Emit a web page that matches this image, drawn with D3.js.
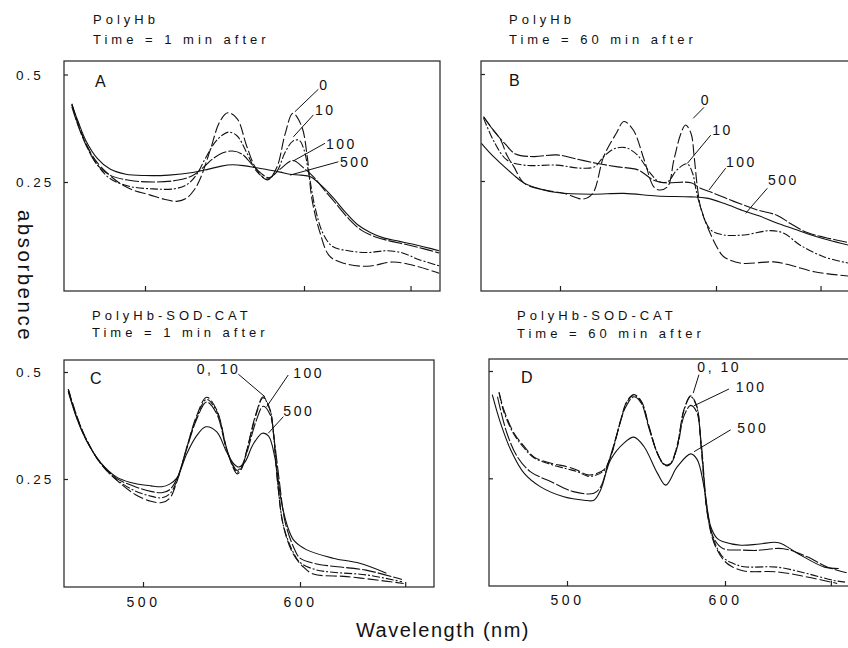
<!DOCTYPE html>
<html>
<head>
<meta charset="utf-8">
<script src="https://cdn.jsdelivr.net/npm/d3@7"></script>
<style>
  body { margin: 0; background: #fff; }
  svg { display: block; }
  text { font-family: "Liberation Sans", Arial, sans-serif; fill: #111; }
</style>
</head>
<body>
<svg id="chart" width="848" height="648"></svg>
<script>
// spectra: [wavelength nm, absorbance]
// series = H2O2 concentration (0, 10, 100, 500)
const seriesNames = ['0', '10', '100', '500'];

// A: PolyHb, 1 min
const A_0 = [[454,0.432],[458,0.385],[463,0.338],[470,0.295],[478,0.265],[485,0.245],[492,0.232],[503,0.22],[512,0.21],[520,0.205],[526,0.212],[531,0.232],[535,0.26],[541,0.324],[547,0.39],[552,0.411],[558,0.397],[564,0.333],[570,0.28],[577,0.255],[583,0.285],[588,0.36],[593,0.41],[598.5,0.38],[602,0.31],[605,0.21],[610,0.133],[616,0.078],[625,0.061],[640,0.054],[656,0.064],[670,0.055],[685,0.038]];
const A_10 = [[454,0.43],[458,0.383],[463,0.338],[470,0.29],[478,0.258],[490,0.24],[505,0.234],[518,0.234],[526,0.243],[532,0.265],[538,0.305],[544,0.342],[549,0.36],[553,0.366],[558,0.357],[564,0.318],[570,0.276],[577,0.257],[583,0.275],[588,0.318],[593,0.345],[597,0.347],[600,0.325],[603,0.27],[607,0.19],[612,0.13],[618,0.1],[628,0.09],[640,0.086],[652,0.09],[662,0.085],[672,0.07],[685,0.055]];
const A_100 = [[454,0.425],[458,0.38],[463,0.335],[470,0.29],[478,0.266],[490,0.254],[505,0.25],[520,0.254],[530,0.265],[537,0.285],[543,0.305],[549,0.318],[555,0.322],[561,0.315],[567,0.292],[573,0.27],[578,0.26],[585,0.28],[593,0.3],[600,0.282],[606,0.262],[612,0.235],[620,0.2],[628,0.165],[636,0.138],[645,0.122],[655,0.112],[665,0.104],[675,0.095],[685,0.085]];
const A_500 = [[454,0.43],[458,0.39],[463,0.345],[470,0.305],[478,0.28],[488,0.268],[500,0.265],[515,0.266],[530,0.272],[540,0.28],[548,0.287],[555,0.29],[562,0.288],[570,0.283],[578,0.278],[585,0.273],[591,0.268],[598,0.266],[604,0.262],[610,0.245],[618,0.215],[626,0.18],[634,0.15],[642,0.132],[650,0.12],[660,0.112],[670,0.104],[680,0.095],[685,0.09]];

// B: PolyHb, 60 min
const B_0 = [[451,0.40],[456,0.375],[462,0.346],[466,0.31],[470.5,0.283],[477,0.245],[490,0.229],[503,0.221],[515,0.208],[521,0.221],[528,0.307],[536,0.361],[541,0.389],[547,0.369],[554,0.299],[560,0.237],[563.5,0.229],[569,0.237],[573,0.299],[577.5,0.361],[580.5,0.381],[584,0.361],[586,0.307],[588,0.237],[590,0.19],[594.5,0.143],[601,0.093],[605,0.073],[616,0.058],[637,0.061],[648,0.053],[663,0.038],[685,0.028]];
const B_10 = [[451,0.397],[458,0.34],[466,0.299],[477,0.287],[498,0.287],[513,0.28],[522,0.283],[528,0.307],[534.5,0.325],[542,0.328],[549.5,0.311],[558,0.268],[563.5,0.248],[569,0.248],[575,0.276],[581.5,0.29],[585,0.268],[587,0.233],[590,0.19],[596.5,0.136],[605,0.124],[618,0.124],[635,0.134],[643.5,0.128],[654,0.1],[669,0.073],[685,0.058]];
const B_100 = [[451,0.40],[458,0.365],[465,0.336],[471.5,0.313],[483,0.307],[498,0.311],[511,0.301],[524,0.291],[537,0.283],[550,0.276],[560,0.252],[567,0.246],[584,0.246],[590,0.233],[599,0.221],[611,0.203],[626,0.183],[639,0.17],[648,0.15],[658,0.13],[670,0.118],[685,0.106]];
const B_500 = [[449.6,0.338],[456,0.312],[462,0.291],[470,0.265],[477,0.245],[487.5,0.231],[498,0.223],[520,0.219],[541,0.221],[562,0.215],[584,0.213],[594,0.21],[605,0.198],[618,0.18],[628,0.168],[639,0.152],[650,0.138],[660,0.125],[672,0.112],[685,0.10]];

// C: PolyHb-SOD-CAT, 1 min
const C_0 = [[452.4,0.46],[458,0.395],[464,0.342],[472.6,0.288],[483,0.248],[495,0.214],[505,0.198],[512,0.195],[517,0.205],[521.5,0.243],[528,0.325],[534,0.396],[540.5,0.441],[547,0.411],[553,0.325],[557,0.28],[560,0.262],[563,0.275],[566,0.315],[572,0.403],[576.5,0.442],[581,0.411],[583,0.36],[586,0.232],[589.5,0.139],[595.5,0.076],[602,0.045],[608.5,0.028],[630,0.022],[653,0.012],[666,0.006]];
const C_10 = [[452.4,0.46],[458,0.395],[464,0.342],[472.6,0.288],[483,0.249],[495,0.222],[505,0.21],[512,0.206],[517,0.215],[521.5,0.245],[528,0.325],[534,0.392],[540.5,0.436],[547,0.408],[553,0.324],[557,0.283],[560,0.266],[563,0.278],[566,0.315],[572,0.4],[576.5,0.44],[581,0.41],[583,0.36],[586,0.234],[589.5,0.14],[595.5,0.08],[600,0.055],[610,0.038],[621,0.032],[642,0.026],[665,0.01]];
const C_100 = [[452.4,0.455],[458,0.392],[464,0.34],[472.6,0.29],[483,0.252],[495,0.232],[505,0.221],[512,0.218],[517,0.225],[521.5,0.25],[528,0.322],[534,0.388],[540.5,0.43],[547,0.402],[553,0.322],[557,0.285],[560,0.27],[563,0.282],[566,0.31],[572,0.385],[576.5,0.42],[581,0.4],[584,0.33],[587,0.24],[590.5,0.15],[596,0.09],[600,0.065],[610,0.052],[621,0.046],[642,0.037],[665,0.015]];
const C_500 = [[452.4,0.455],[458,0.39],[464,0.34],[472.6,0.29],[483,0.255],[492,0.242],[505,0.234],[512,0.232],[517,0.238],[521.5,0.252],[528,0.31],[534,0.35],[540,0.372],[547,0.36],[553,0.315],[558,0.285],[561,0.278],[565,0.29],[570,0.33],[576,0.357],[580,0.35],[584,0.3],[588,0.2],[592,0.14],[596,0.107],[604,0.085],[621,0.065],[638,0.053],[655,0.03]];

// D: PolyHb-SOD-CAT, 60 min
const D_0 = [[457,0.45],[460,0.41],[466.5,0.355],[473,0.324],[479,0.3],[490,0.285],[500,0.277],[507,0.268],[513,0.258],[518,0.26],[523.4,0.27],[527.6,0.3],[534,0.386],[538,0.43],[542.4,0.445],[547,0.43],[552,0.37],[557,0.31],[561,0.284],[563.5,0.28],[566,0.286],[570,0.33],[574,0.41],[578.3,0.442],[582,0.42],[585,0.32],[588.8,0.168],[593,0.1],[599,0.06],[604,0.045],[612,0.034],[633,0.032],[652,0.02],[671,0.005]];
const D_10 = [[457,0.45],[460,0.405],[466.5,0.352],[473,0.32],[479,0.298],[490,0.282],[500,0.272],[507,0.265],[513,0.255],[518,0.257],[523.4,0.268],[527.6,0.3],[534,0.385],[538,0.428],[542.4,0.443],[547,0.428],[552,0.368],[557,0.31],[561,0.284],[563.5,0.281],[566,0.287],[570,0.33],[574,0.408],[578.3,0.44],[582,0.418],[585,0.32],[588.8,0.17],[593,0.105],[599,0.065],[605,0.052],[612,0.044],[633,0.043],[652,0.028],[669,0.012],[676,0.008]];
const D_100 = [[456,0.44],[462,0.355],[468.6,0.3],[477,0.265],[490,0.242],[504,0.219],[517,0.215],[521.3,0.23],[525.5,0.277],[531.8,0.355],[537,0.415],[542.4,0.44],[547,0.425],[552,0.365],[557,0.31],[561,0.283],[563.5,0.279],[566,0.285],[570,0.325],[574,0.395],[578.3,0.42],[582,0.405],[585,0.33],[588.8,0.175],[593,0.11],[599,0.086],[610,0.083],[620,0.082],[637,0.086],[652,0.067],[665,0.043],[677,0.03]];
const D_500 = [[452.7,0.445],[458,0.378],[464.4,0.316],[472.8,0.262],[483.3,0.23],[498,0.207],[510.8,0.199],[517,0.199],[521.3,0.223],[527.6,0.293],[536,0.332],[542.4,0.346],[548.7,0.324],[557.2,0.262],[562.5,0.234],[569.8,0.277],[578.3,0.307],[582.5,0.293],[586.7,0.23],[591,0.137],[595,0.11],[599,0.102],[610,0.094],[622,0.097],[634,0.1],[646,0.075],[663,0.043],[672,0.04]];

// curve labels: text, point on curve, leader end, text anchor (data units)
const labelsA = [
  { text: '0',   on: [594.3, 0.4135], end: [609, 0.4656], at: [609.6, 0.464] },
  { text: '10',  on: [593.3, 0.355],  end: [605.9, 0.406], at: [606.9, 0.406] },
  { text: '100', on: [593.3, 0.299],  end: [613.2, 0.34],  at: [613.8, 0.327] },
  { text: '500', on: [591.2, 0.266],  end: [621.6, 0.297], at: [622.6, 0.2856] }
];
const labelsB = [
  { text: '0',   on: [585.4, 0.3965], end: [592.3, 0.422], at: [590.2, 0.4276] },
  { text: '10',  on: [581.6, 0.291],  end: [596.6, 0.357], at: [597.6, 0.357] },
  { text: '100', on: [595.5, 0.229],  end: [606.2, 0.28],  at: [606.4, 0.283] },
  { text: '500', on: [619, 0.1745],   end: [632.9, 0.233], at: [633.3, 0.2407] }
];
const labelsC = [
  { text: '0, 10', on: [577.7, 0.442], end: [560.7, 0.495], at: [534.2, 0.4953] },
  { text: '100',   on: [578.8, 0.419], end: [592.5, 0.493], at: [595.7, 0.4853] },
  { text: '500',   on: [579.8, 0.357], end: [589.4, 0.3956], at: [589.4, 0.397] }
];
const labelsD = [
  { text: '0, 10', on: [579.9, 0.4486], end: [583.5, 0.4914], at: [582.5, 0.498] },
  { text: '100',   on: [580.4, 0.419],  end: [602.5, 0.458], at: [606.8, 0.45] },
  { text: '500',   on: [580.4, 0.312],  end: [603.6, 0.363], at: [607.8, 0.3565] }
];

const xTicks = [500, 600, 667];
const xTickLabels = { 500: '500', 600: '600' };
const yTicks = [0.25, 0.5];
const yTickLabels = { 0.25: '0.25', 0.5: '0.5' };

const dashes = { '0': '11,3', '10': '8,2,2,2', '100': '14,2', '500': null };

// layout (px): box = [left, top, right, bottom]
const panels = [
  { id: 'A', title: ['PolyHb', 'Time = 1 min after'], data: [A_0, A_10, A_100, A_500], labels: labelsA,
    box: [64, 61, 440, 291], x500: 145, x600: 304, y25: 182, y50: 74.5, yLab: true, xLab: false,
    tx: 93, ty: [24, 44], lx: 95, ly: 87 },
  { id: 'B', title: ['PolyHb', 'Time = 60 min after'], data: [B_0, B_10, B_100, B_500], labels: labelsB,
    box: [481, 61, 852, 291], x500: 560, x600: 716, y25: 181, y50: 74, yLab: false, xLab: false,
    tx: 509, ty: [24, 44], lx: 509, ly: 86 },
  { id: 'C', title: ['PolyHb-SOD-CAT', 'Time = 1 min after'], data: [C_0, C_10, C_100, C_500], labels: labelsC,
    box: [64, 360, 434, 587], x500: 143, x600: 300, y25: 479, y50: 372, yLab: true, xLab: true,
    tx: 92, ty: [320, 337], lx: 90, ly: 384 },
  { id: 'D', title: ['PolyHb-SOD-CAT', 'Time = 60 min after'], data: [D_0, D_10, D_100, D_500], labels: labelsD,
    box: [489, 359, 852, 586], x500: 567, x600: 725, y25: 478.3, y50: 371, yLab: false, xLab: true,
    tx: 517, ty: [319.5, 337.5], lx: 521, ly: 383 }
];

const svg = d3.select('#chart');
const defs = svg.append('defs');

panels.forEach(p => {
  const [L, T, R, Bt] = p.box;
  const x = d3.scaleLinear().domain([500, 600]).range([p.x500, p.x600]);
  const y = d3.scaleLinear().domain([0.25, 0.5]).range([p.y25, p.y50]);
  const g = svg.append('g');

  // titles
  p.title.forEach((t, i) => {
    g.append('text').attr('x', p.tx).attr('y', p.ty[i])
      .attr('font-size', 13).attr('letter-spacing', 4).text(t);
  });

  // clip
  defs.append('clipPath').attr('id', 'clip' + p.id)
    .append('rect').attr('x', L).attr('y', T).attr('width', R - L).attr('height', Bt - T);

  // axes ticks
  const xAxis = d3.axisBottom(x).tickValues(xTicks).tickSize(-5).tickPadding(p.id === 'C' ? 10 : 9)
    .tickFormat(d => p.xLab ? (xTickLabels[d] || '') : '');
  const xg = g.append('g').attr('transform', `translate(0,${Bt})`).call(xAxis);
  const yAxis = d3.axisLeft(y).tickValues(yTicks).tickSize(-4).tickFormat('');
  const yg = g.append('g').attr('transform', `translate(${L},0)`).call(yAxis);
  [xg, yg].forEach(a => {
    a.select('.domain').remove();
    a.selectAll('line').attr('stroke', '#222').attr('stroke-width', 1.2);
  });
  xg.selectAll('text').attr('font-size', 14).attr('letter-spacing', 3.5)
    .attr('font-family', '"Liberation Sans", Arial, sans-serif').attr('fill', '#111');

  if (p.yLab) {
    yTicks.forEach(v => {
      g.append('text').attr('x', 16).attr('y', y(v) + 5)
        .attr('font-size', 13.5).attr('letter-spacing', 3).text(yTickLabels[v]);
    });
  }

  // frame
  g.append('rect').attr('x', L).attr('y', T).attr('width', R - L).attr('height', Bt - T)
    .attr('fill', 'none').attr('stroke', '#222').attr('stroke-width', 1.2);

  // panel letter
  g.append('text').attr('x', p.lx).attr('y', p.ly).attr('font-size', 16).text(p.id);

  // spectra
  const line = d3.line().x(d => x(d[0])).y(d => y(d[1])).curve(d3.curveCatmullRom.alpha(0.5));
  const cg = g.append('g').attr('clip-path', `url(#clip${p.id})`);
  p.data.forEach((s, i) => {
    cg.append('path').datum(s).attr('d', line)
      .attr('fill', 'none').attr('stroke', '#111').attr('stroke-width', 1.1)
      .attr('stroke-dasharray', dashes[seriesNames[i]]);
  });

  // curve labels with leader lines
  p.labels.forEach(l => {
    g.append('line')
      .attr('x1', x(l.on[0])).attr('y1', y(l.on[1]))
      .attr('x2', x(l.end[0])).attr('y2', y(l.end[1]))
      .attr('stroke', '#111').attr('stroke-width', 1);
    g.append('text').attr('x', x(l.at[0])).attr('y', y(l.at[1]))
      .attr('font-size', 14).attr('letter-spacing', 2.5).text(l.text);
  });
});

// shared axis titles
svg.append('text').attr('transform', 'translate(18,276) rotate(90)')
  .attr('text-anchor', 'middle').attr('font-size', 20.5).attr('letter-spacing', 2.5).text('absorbence');
svg.append('text').attr('x', 443).attr('y', 637)
  .attr('text-anchor', 'middle').attr('font-size', 20).attr('letter-spacing', 1.5).text('Wavelength (nm)');
</script>
</body>
</html>
